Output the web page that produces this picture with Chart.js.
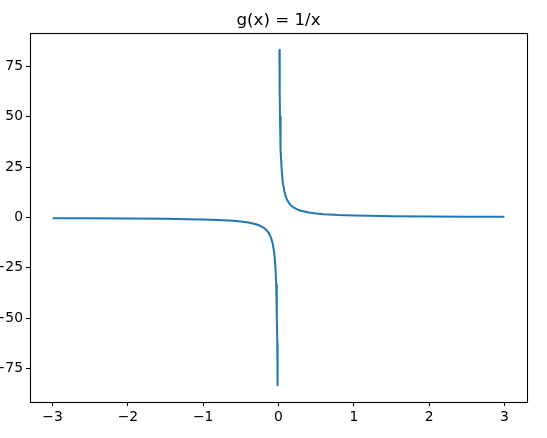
<!DOCTYPE html>
<html>
<head>
<meta charset="utf-8">
<title>g(x) = 1/x</title>
<script src="https://cdn.jsdelivr.net/npm/chart.js@4/dist/chart.umd.min.js"></script>
<style>
  html, body { margin: 0; padding: 0; background: #fff; }
  canvas { display: block; }
</style>
</head>
<body>
<canvas id="plot" width="547" height="438"></canvas>
<script>
// Chart data
const chartTitle = 'g(x) = 1/x';

// left branch, x < 0
const negX = [-3, -2.5, -2, -1.5, -1.2, -1, -0.8, -0.6, -0.5, -0.4, -0.3, -0.25, -0.2, -0.16, -0.13, -0.1,
  -0.08, -0.06, -0.05, -0.04, -0.03, -0.025, -0.02, -0.016, -0.012];
const negY = [-0.33, -0.4, -0.5, -0.67, -0.83, -1, -1.25, -1.67, -2, -2.5, -3.33, -4, -5, -6.25, -7.69, -10,
  -12.5, -16.67, -20, -25, -33.33, -40, -50, -62.5, -83.3];

// right branch, x > 0
const posX = [0.012, 0.016, 0.02, 0.025, 0.03, 0.04, 0.05, 0.06, 0.08, 0.1, 0.13, 0.16, 0.2, 0.25, 0.3,
  0.4, 0.5, 0.6, 0.8, 1, 1.2, 1.5, 2, 2.5, 3];
const posY = [83.3, 62.5, 50, 40, 33.33, 25, 20, 16.67, 12.5, 10, 7.69, 6.25, 5, 4, 3.33,
  2.5, 2, 1.67, 1.25, 1, 0.83, 0.67, 0.5, 0.4, 0.33];

// tick labels
const xTicks = [-3, -2, -1, 0, 1, 2, 3];
const yTicks = [-75, -50, -25, 0, 25, 50, 75];

const lineColor = '#1f77b4';
const fontFamily = '"DejaVu Sans", sans-serif';

function toPoints(xs, ys) {
  return xs.map((x, i) => ({ x: x, y: ys[i] }));
}

// matplotlib uses a real minus sign
function fmtTick(v) {
  return v < 0 ? '\u2212' + Math.abs(v) : String(v);
}

// axes frame + title over the plot area
const framePlugin = {
  id: 'frame',
  afterDraw(chart) {
    const { ctx, chartArea } = chart;
    ctx.save();
    ctx.strokeStyle = '#000';
    ctx.lineWidth = 1.1;
    ctx.strokeRect(chartArea.left + 0.5, chartArea.top + 0.5,
      chartArea.right - chartArea.left, chartArea.bottom - chartArea.top);
    ctx.fillStyle = '#000';
    ctx.font = '16.67px ' + fontFamily;
    ctx.textAlign = 'center';
    ctx.textBaseline = 'alphabetic';
    ctx.fillText(chartTitle, (chartArea.left + chartArea.right) / 2, 25);
    ctx.restore();
  }
};

const tickGrid = {
  display: true,
  drawOnChartArea: false,
  drawTicks: true,
  tickLength: 4,
  tickColor: '#000',
  tickWidth: 1.1
};

function branch(xs, ys) {
  return {
    data: toPoints(xs, ys),
    showLine: true,
    borderColor: lineColor,
    borderWidth: 2,
    borderJoinStyle: 'round',
    borderCapStyle: 'butt',
    pointRadius: 0,
    tension: 0
  };
}

new Chart(document.getElementById('plot'), {
  type: 'scatter',
  data: {
    datasets: [branch(negX, negY), branch(posX, posY)]
  },
  options: {
    responsive: false,
    animation: false,
    layout: { padding: { top: 33, right: 20, left: 0, bottom: 0 } },
    scales: {
      x: {
        type: 'linear',
        min: -3.3,
        max: 3.3,
        grid: tickGrid,
        border: { display: false },
        afterBuildTicks: scale => { scale.ticks = xTicks.map(v => ({ value: v })); },
        afterFit: scale => { scale.height = 36; },
        ticks: {
          color: '#000',
          padding: 3,
          maxRotation: 0,
          font: { family: fontFamily, size: 13.9 },
          callback: v => fmtTick(v)
        }
      },
      y: {
        type: 'linear',
        min: -91.6,
        max: 91.6,
        grid: tickGrid,
        border: { display: false },
        afterBuildTicks: scale => { scale.ticks = yTicks.map(v => ({ value: v })); },
        afterFit: scale => { scale.width = 30; },
        ticks: {
          color: '#000',
          padding: 3,
          font: { family: fontFamily, size: 13.9 },
          callback: v => fmtTick(v)
        }
      }
    },
    plugins: {
      legend: { display: false },
      title: { display: false },
      tooltip: { enabled: false }
    }
  },
  plugins: [framePlugin]
});
</script>
</body>
</html>
